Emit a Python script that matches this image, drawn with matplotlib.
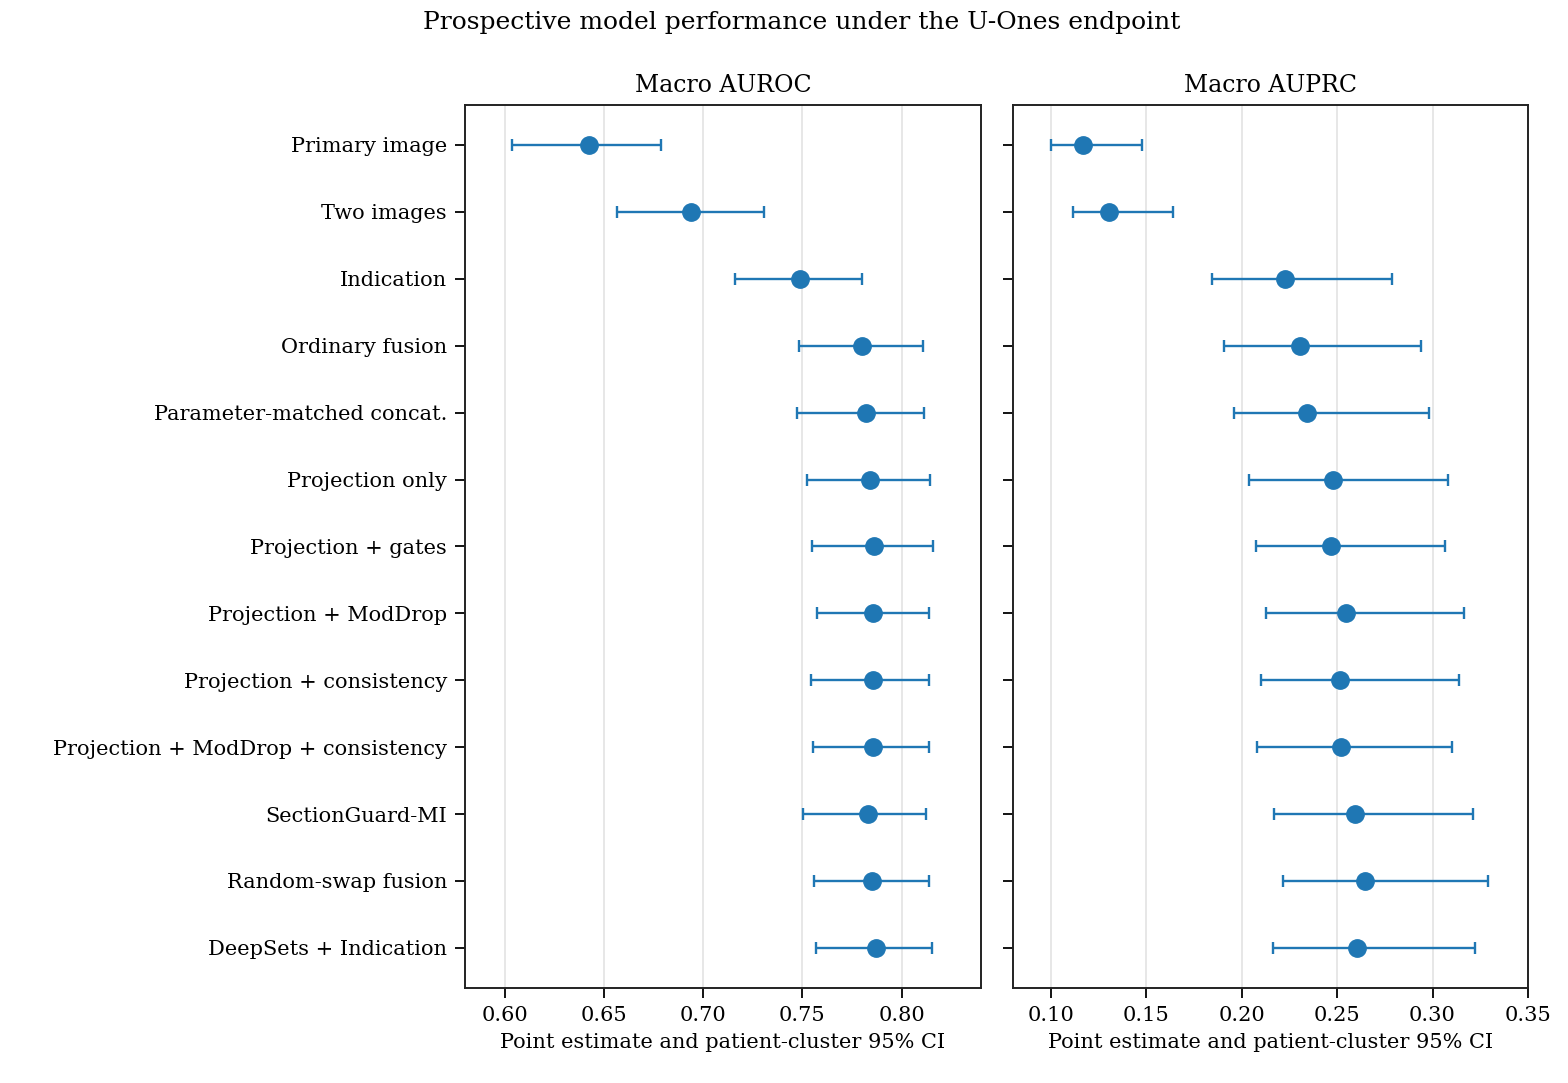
import numpy as np
import matplotlib
matplotlib.use("Agg")
import matplotlib.pyplot as plt

models = ["Primary image", "Two images", "Indication", "Ordinary fusion",
          "Parameter-matched concat.", "Projection only", "Projection + gates",
          "Projection + ModDrop", "Projection + consistency",
          "Projection + ModDrop + consistency", "SectionGuard-MI",
          "Random-swap fusion", "DeepSets + Indication"]

auroc = [0.6426, 0.6940, 0.7487, 0.7799, 0.7819, 0.7839, 0.7859,
         0.7856, 0.7856, 0.7856, 0.7831, 0.7852, 0.7871]
auroc_lo = [0.6039, 0.6565, 0.7158, 0.7483, 0.7471, 0.7523, 0.7550,
            0.7572, 0.7545, 0.7552, 0.7505, 0.7560, 0.7567]
auroc_hi = [0.6787, 0.7307, 0.7799, 0.8106, 0.8114, 0.8143, 0.8156,
            0.8139, 0.8138, 0.8136, 0.8124, 0.8139, 0.8154]

auprc = [0.1167, 0.1306, 0.2227, 0.2306, 0.2342, 0.2480, 0.2469,
         0.2549, 0.2516, 0.2518, 0.2595, 0.2646, 0.2606]
auprc_lo = [0.1002, 0.1113, 0.1845, 0.1908, 0.1959, 0.2036, 0.2076,
            0.2128, 0.2103, 0.2079, 0.2167, 0.2214, 0.2164]
auprc_hi = [0.1478, 0.1637, 0.2786, 0.2941, 0.2980, 0.3083, 0.3068,
            0.3167, 0.3138, 0.3104, 0.3210, 0.3293, 0.3221]

plt.rcParams['font.family'] = 'DejaVu Serif'

fig = plt.figure(figsize=(15.68, 10.83), dpi=100)
ax1 = fig.add_axes([0.2966, 0.0877, 0.329, 0.8155])
ax2 = fig.add_axes([0.646, 0.0877, 0.3284, 0.8155], sharey=ax1)

y = np.arange(len(models))

panels = [(ax1, auroc, auroc_lo, auroc_hi, "Macro AUROC", (0.58, 0.84),
           [0.60, 0.65, 0.70, 0.75, 0.80]),
          (ax2, auprc, auprc_lo, auprc_hi, "Macro AUPRC", (0.08, 0.35),
           [0.10, 0.15, 0.20, 0.25, 0.30, 0.35])]

for ax, est, lo, hi, title, xlim, ticks in panels:
    est = np.array(est)
    err = [est - np.array(lo), np.array(hi) - est]
    ax.errorbar(est, y, xerr=err, fmt='o', color='#1f77b4', markersize=12.5,
                elinewidth=1.7, capsize=4, capthick=1.7, zorder=3)
    ax.set_xlim(*xlim)
    ax.set_xticks(ticks)
    ax.set_xticklabels([f"{t:.2f}" for t in ticks])
    ax.grid(axis='x', color='#e3e3e3', linewidth=1.2, zorder=0)
    ax.set_title(title, fontsize=17, pad=9)
    ax.set_xlabel("Point estimate and patient-cluster 95% CI", fontsize=15,
                  labelpad=6)
    ax.tick_params(labelsize=15, length=7, width=1.3, pad=6)
    for s in ax.spines.values():
        s.set_linewidth(1.4)
        s.set_color('#222222')

ax1.set_yticks(y)
ax1.set_yticklabels(models)
ax1.set_ylim(len(models) - 0.4, -0.6)
ax2.tick_params(axis='y', labelleft=False)

fig.suptitle("Prospective model performance under the U-Ones endpoint",
             fontsize=18, x=0.5115, y=0.99)

fig.savefig("out.png", dpi=100)
